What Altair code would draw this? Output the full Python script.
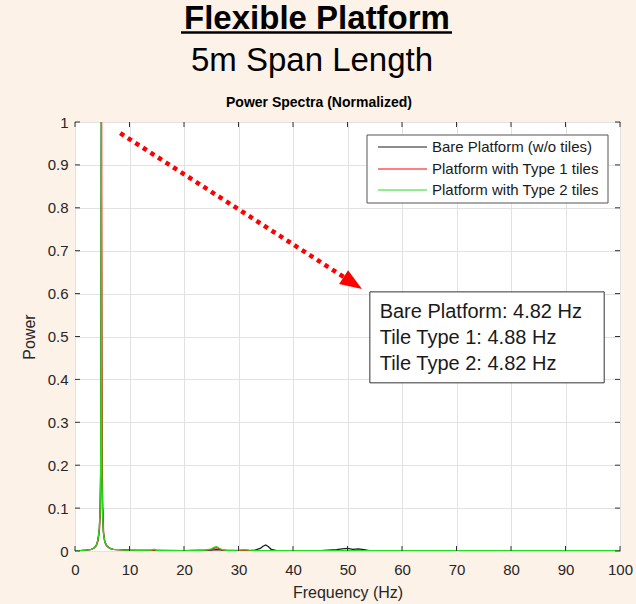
import altair as alt
import pandas as pd

FONT = "Liberation Sans"

SERIES = ["Bare Platform (w/o tiles)", "Platform with Type 1 tiles", "Platform with Type 2 tiles"]
COLORS = ["#1a1a1a", "#ff0000", "#22dd22"]

# Bare platform spectrum
bare_f = [0, 1, 2, 3, 3.5, 3.9, 4.2, 4.45, 4.6, 4.7, 4.76, 4.82, 4.88, 4.94, 5.05, 5.2, 5.45, 5.8, 6.3, 7, 8,
          10, 14, 20, 25, 26, 27, 30, 31, 32, 33, 34, 34.5, 35, 35.5, 36, 37, 40, 45, 48, 49, 50, 50.5, 51, 52,
          53, 54, 56, 60, 70, 80, 90, 100]
bare_p = [0.001, 0.001, 0.002, 0.004, 0.007, 0.013, 0.025, 0.05, 0.09, 0.18, 0.4, 1.0, 0.4, 0.18, 0.09, 0.045,
          0.022, 0.012, 0.007, 0.004, 0.003, 0.002, 0.0015, 0.001, 0.002, 0.003, 0.002, 0.001, 0.002, 0.001,
          0.002, 0.006, 0.011, 0.014, 0.01, 0.004, 0.001, 0.001, 0.001, 0.003, 0.005, 0.006, 0.005, 0.004,
          0.005, 0.003, 0.001, 0.001, 0.001, 0.001, 0.001, 0.001, 0.001]

# Type 1 tiles spectrum
t1_f = [0, 1, 2, 3, 3.5, 3.9, 4.25, 4.5, 4.65, 4.76, 4.82, 4.88, 4.94, 5.0, 5.1, 5.15, 5.25, 5.5, 5.9, 6.4, 7,
        8, 10, 14, 20, 24, 25, 25.6, 26, 26.4, 27, 28, 32, 35, 40, 50, 60, 100]
t1_p = [0.001, 0.001, 0.002, 0.004, 0.007, 0.012, 0.025, 0.05, 0.1, 0.2, 0.45, 1.0, 0.45, 0.2, 0.1, 0.095,
        0.04, 0.02, 0.011, 0.006, 0.004, 0.003, 0.002, 0.0015, 0.001, 0.002, 0.004, 0.007, 0.008, 0.006,
        0.002, 0.001, 0.001, 0.001, 0.001, 0.001, 0.001, 0.001]

# Type 2 tiles spectrum
t2_f = [0, 1, 2, 3, 3.5, 3.9, 4.2, 4.45, 4.6, 4.7, 4.76, 4.82, 4.88, 4.94, 5.05, 5.2, 5.45, 5.8, 6.3, 7, 8, 9,
        10, 12, 14, 14.5, 15, 18, 22, 24, 25, 25.6, 26, 26.4, 27, 28, 30, 31, 32, 34, 38, 45, 50, 55, 60, 70,
        80, 90, 100]
t2_p = [0.001, 0.001, 0.002, 0.004, 0.007, 0.013, 0.025, 0.05, 0.09, 0.18, 0.4, 1.0, 0.4, 0.18, 0.09, 0.045,
        0.022, 0.012, 0.007, 0.004, 0.003, 0.002, 0.002, 0.0015, 0.002, 0.004, 0.0015, 0.001, 0.001, 0.002,
        0.005, 0.009, 0.01, 0.007, 0.003, 0.001, 0.002, 0.003, 0.002, 0.001, 0.001, 0.001, 0.001, 0.001,
        0.001, 0.001, 0.001, 0.001, 0.001]

x_ticks = [0, 10, 20, 30, 40, 50, 60, 70, 80, 90, 100]
y_ticks = [0, 0.1, 0.2, 0.3, 0.4, 0.5, 0.6, 0.7, 0.8, 0.9, 1]

peak_lines = ["Bare Platform: 4.82 Hz", "Tile Type 1: 4.88 Hz", "Tile Type 2: 4.82 Hz"]
peak_rows_y = [0.557, 0.497, 0.436]

arrow_x = [8.3, 49.4]
arrow_y = [0.974, 0.638]
head_x = [50.97]
head_y = [0.6247]

W, H = 545, 429

frames = []
for name, f, p in zip(SERIES, [bare_f, t1_f, t2_f], [bare_p, t1_p, t2_p]):
    frames.append(pd.DataFrame({"freq": f, "power": p, "series": name}))
spectra = pd.concat(frames, ignore_index=True)

x_scale = alt.Scale(domain=[0, 100], nice=False, zero=False)
y_scale = alt.Scale(domain=[0, 1], nice=False)
color_scale = alt.Scale(domain=SERIES, range=COLORS)

axis_common = dict(grid=True, domain=False, ticks=False, labelFlush=False, labelOverlap=False,
                   labelFont=FONT, titleFont=FONT, labelColor="#262626", titleColor="#262626",
                   titleFontWeight="normal", gridColor="#e2e2e2", labelFontSize=15, titleFontSize=16)
x_axis = alt.Axis(values=x_ticks, title="Frequency (Hz)", labelPadding=11, titlePadding=7, **axis_common)
y_axis = alt.Axis(values=y_ticks, format="~g", title="Power", labelPadding=7, titlePadding=10, **axis_common)

layers = []
for name in SERIES:
    layers.append(
        alt.Chart(spectra).transform_filter(alt.datum.series == name)
        .mark_line(strokeWidth=1.3, clip=True)
        .encode(x=alt.X("freq:Q", scale=x_scale, axis=x_axis),
                y=alt.Y("power:Q", scale=y_scale, axis=y_axis),
                color=alt.Color("series:N", scale=color_scale, legend=None))
    )

# inner tick marks on all four sides
xt = pd.DataFrame({"v": x_ticks})
yt = pd.DataFrame({"v": y_ticks})
tick_style = dict(color="#333333", strokeWidth=1)
ticks = [
    alt.Chart(xt).mark_rule(**tick_style).encode(x=alt.X("v:Q", scale=x_scale), y=alt.value(H), y2=alt.value(H - 5)),
    alt.Chart(xt).mark_rule(**tick_style).encode(x=alt.X("v:Q", scale=x_scale), y=alt.value(0), y2=alt.value(5)),
    alt.Chart(yt).mark_rule(**tick_style).encode(y=alt.Y("v:Q", scale=y_scale), x=alt.value(0), x2=alt.value(5)),
    alt.Chart(yt).mark_rule(**tick_style).encode(y=alt.Y("v:Q", scale=y_scale), x=alt.value(W), x2=alt.value(W - 5)),
]

# legend box drawn in the upper right of the axes
legend_df = pd.DataFrame({"series": SERIES, "ry": [25, 47, 68]})
legend_box = alt.Chart(pd.DataFrame({"a": [0]})).mark_rect(
    fill="white", stroke="#555555", strokeWidth=1).encode(
    x=alt.value(292), x2=alt.value(533), y=alt.value(13), y2=alt.value(81))
legend_lines = alt.Chart(legend_df).mark_rule(strokeWidth=1).encode(
    x=alt.value(303), x2=alt.value(352), y=alt.Y("ry:Q", scale=None),
    color=alt.Color("series:N", scale=color_scale, legend=None))
legend_text = alt.Chart(legend_df).mark_text(
    align="left", baseline="middle", font=FONT, fontSize=15, color="#1a1a1a").encode(
    x=alt.value(357), y=alt.Y("ry:Q", scale=None), text="series:N")

# dotted arrow pointing at the peak-frequency box
arrow_df = pd.DataFrame({"x": arrow_x, "y": arrow_y})
arrow = alt.Chart(arrow_df).mark_line(color="#ff0000", strokeWidth=4.5, strokeDash=[4.5, 4.5],
                                       strokeCap="butt").encode(
    x=alt.X("x:Q", scale=x_scale), y=alt.Y("y:Q", scale=y_scale))
head = alt.Chart(pd.DataFrame({"x": head_x, "y": head_y})).mark_point(
    shape="M1,0L-1,-0.75L-1,0.75Z", angle=33, size=480, filled=True, color="#ff0000",
    opacity=1, strokeWidth=0).encode(
    x=alt.X("x:Q", scale=x_scale), y=alt.Y("y:Q", scale=y_scale))

# peak-frequency box
box = alt.Chart(pd.DataFrame({"x": [54.1], "x2": [97.1], "y": [0.604], "y2": [0.392]})).mark_rect(
    fill="white", stroke="#333333", strokeWidth=1).encode(
    x=alt.X("x:Q", scale=x_scale), x2="x2:Q", y=alt.Y("y:Q", scale=y_scale), y2="y2:Q")
box_text = alt.Chart(pd.DataFrame({"t": peak_lines, "y": peak_rows_y})).mark_text(
    align="left", baseline="middle", font=FONT, fontSize=20, color="#1a1a1a").encode(
    x=alt.value((55.9 / 100) * W), y=alt.Y("y:Q", scale=y_scale), text="t:N")

# headings above the axes
title1 = alt.Chart(pd.DataFrame({"t": ["Flexible Platform"]})).mark_text(
    font=FONT, fontSize=33, fontWeight="bold", color="black", baseline="alphabetic", align="center").encode(
    x=alt.value(242), y=alt.value(-93), text="t:N")
underline = alt.Chart(pd.DataFrame({"a": [0]})).mark_rule(color="black", strokeWidth=2.5).encode(
    x=alt.value(106), x2=alt.value(377), y=alt.value(-89.5))
title2 = alt.Chart(pd.DataFrame({"t": ["5m Span Length"]})).mark_text(
    font=FONT, fontSize=33, color="black", baseline="alphabetic", align="center").encode(
    x=alt.value(237), y=alt.value(-51), text="t:N")
title3 = alt.Chart(pd.DataFrame({"t": ["Power Spectra (Normalized)"]})).mark_text(
    font=FONT, fontSize=14, fontWeight="bold", color="black", baseline="alphabetic", align="center").encode(
    x=alt.value(244), y=alt.value(-15), text="t:N")

chart = alt.layer(*layers, *ticks, legend_box, legend_lines, legend_text, arrow, head, box, box_text,
                  title1, underline, title2, title3).properties(
    width=W, height=H,
    background="#fdf2e8",
    padding={"left": 75, "top": 122, "right": 16, "bottom": 53},
    autosize=alt.AutoSizeParams(type="none"),
).configure_view(fill="white", stroke="#404040", strokeWidth=1)

chart.save("out.html", embed_options={"renderer": "svg", "actions": False})
